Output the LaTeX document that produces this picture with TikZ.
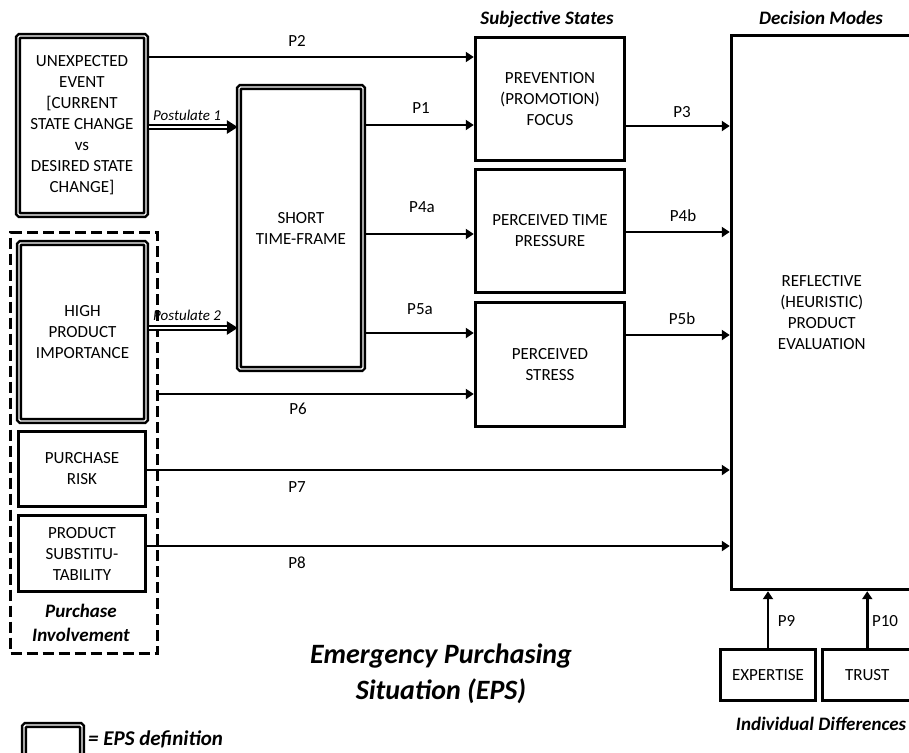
\documentclass[tikz,border=0pt]{standalone}
\usepackage{fontspec}
\setmainfont{Carlito}
\usetikzlibrary{arrows.meta}
\begin{document}
\begin{tikzpicture}[x=1pt,y=-1pt,
  box/.style={draw, line width=3.4pt, align=center, font=\fontsize{17}{21}\selectfont, inner sep=0pt},
  epsbox/.style={draw, line width=2.4pt, double=white, double distance=1.4pt, rounded corners=1.5pt, align=center, font=\fontsize{17}{21}\selectfont, inner sep=0pt},
  groupbox/.style={draw, line width=3.2pt, dash pattern=on 11pt off 5pt, inner sep=0pt},
  arr/.style={line width=2.9pt, -{Triangle[length=8pt,width=10pt]}},
  dblarr/.style={line width=5.2pt, -{Triangle[length=11pt,width=13pt]}},
  dblin/.style={white, line width=1.2pt, shorten >=11pt, shorten <=2pt},
  lbl/.style={font=\fontsize{17}{21}\selectfont, inner sep=0pt, anchor=base},
  post/.style={font=\fontsize{15}{18}\selectfont\itshape, inner sep=0pt, anchor=base west},
  head/.style={font=\fontsize{19}{24}\selectfont\bfseries\itshape, inner sep=0pt, anchor=base},
]
\useasboundingbox (0,0) rectangle (909,752);
\clip (0,0) rectangle (909,752);

% group box
\node[groupbox, minimum width=147pt, minimum height=421pt] (pi) at (84,443) {};

% left column
\node[epsbox, minimum width=128pt, minimum height=179pt] (ue) at (82,125.5)
  {UNEXPECTED\\EVENT\\{[}CURRENT\\STATE CHANGE\\vs\\DESIRED STATE\\CHANGE{]}};
\node[epsbox, minimum width=127pt, minimum height=178pt] (hpi) at (82.5,332)
  {HIGH\\PRODUCT\\IMPORTANCE};
\node[box, minimum width=127pt, minimum height=75pt] (pr) at (82,469) {PURCHASE\\RISK};
\node[box, minimum width=127pt, minimum height=76pt] (ps) at (82,553.5) {PRODUCT\\SUBSTITU-\\TABILITY};

% short time frame
\node[epsbox, minimum width=124pt, minimum height=282pt] (stf) at (301,228) {SHORT\\TIME-FRAME};

% subjective states
\node[box, minimum width=149pt, minimum height=123pt] (prev) at (550,99) {PREVENTION\\(PROMOTION)\\FOCUS};
\node[box, minimum width=149pt, minimum height=123pt] (ptp) at (550,231) {PERCEIVED TIME\\PRESSURE};
\node[box, minimum width=149pt, minimum height=124pt] (stress) at (550,364.5) {PERCEIVED\\STRESS};

% decision mode
\node[box, minimum width=180.5pt, minimum height=554pt] (refl) at (821.75,312.5)
  {REFLECTIVE\\(HEURISTIC)\\PRODUCT\\EVALUATION};

% individual differences
\node[box, minimum width=95pt, minimum height=51pt] (exp) at (768,675) {EXPERTISE};
\node[box, minimum width=89.5pt, minimum height=51pt] (trust) at (867.25,675) {TRUST};

% connectors
\draw[arr] (ue.east |- 0,57) -- (prev.west |- 0,57);
\draw[dblarr] (ue.east |- 0,127) -- (stf.west |- 0,127);
\draw[dblin] (ue.east |- 0,127) -- (stf.west |- 0,127);
\draw[dblarr] (hpi.east |- 0,328) -- (stf.west |- 0,328);
\draw[dblin] (hpi.east |- 0,328) -- (stf.west |- 0,328);
\draw[arr] (stf.east |- 0,125) -- (prev.west |- 0,125);
\draw[arr] (stf.east |- 0,234) -- (ptp.west |- 0,234);
\draw[arr] (stf.east |- 0,333) -- (stress.west |- 0,333);
\draw[arr] (pi.east |- 0,394) -- (stress.west |- 0,394);
\draw[arr] (pr.east |- 0,470) -- (refl.west |- 0,470);
\draw[arr] (ps.east |- 0,546) -- (refl.west |- 0,546);
\draw[arr] (prev.east |- 0,126) -- (refl.west |- 0,126);
\draw[arr] (ptp.east |- 0,232) -- (refl.west |- 0,232);
\draw[arr] (stress.east |- 0,335) -- (refl.west |- 0,335);
\draw[arr] (exp.north) -- (exp.north |- refl.south);
\draw[arr] (trust.north) -- (trust.north |- refl.south);

% labels
\node[lbl] (lp2) at (297,47) {P2};
\node[lbl] (lp1) at (421,113) {P1};
\node[lbl] (lp4a) at (422,212) {P4a};
\node[lbl] (lp5a) at (420,314) {P5a};
\node[lbl] (lp6) at (298,414) {P6};
\node[lbl] (lp7) at (297,492) {P7};
\node[lbl] (lp8) at (297,568) {P8};
\node[lbl] (lp3) at (682,117) {P3};
\node[lbl] (lp4b) at (683,221) {P4b};
\node[lbl] (lp5b) at (682,324) {P5b};
\node[lbl] (lp9) at (786.5,626) {P9};
\node[lbl] (lp10) at (885,626) {P10};
\node[post] (post1) at (153,120) {Postulate 1};
\node[post] (post2) at (153,320) {Postulate 2};

% headings
\node[head] (hs) at (547,25) {Subjective States};
\node[head] (hd) at (821,25) {Decision Modes};
\node[head] (hi) at (821,730) {Individual Differences};
\node[head] (hp1) at (81,617) {Purchase};
\node[head] (hp2) at (81,641) {Involvement};
\node[head, font=\fontsize{28}{34}\selectfont\bfseries\itshape] (eps1) at (441,663) {Emergency Purchasing};
\node[head, font=\fontsize{28}{34}\selectfont\bfseries\itshape] (eps2) at (441,699) {Situation (EPS)};

% legend
\node[epsbox, minimum width=58pt, minimum height=32pt] (leg) at (53,741) {};
\node[head, anchor=base west, font=\fontsize{21}{26}\selectfont\bfseries\itshape] (legt) at (88,745) {= EPS definition};
\end{tikzpicture}
\end{document}
